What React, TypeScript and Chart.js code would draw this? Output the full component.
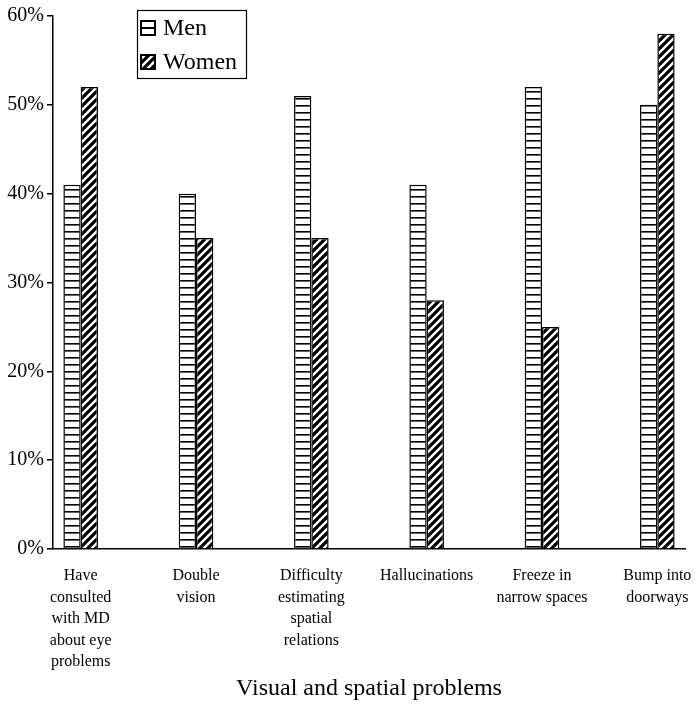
import React, { useEffect, useRef } from "react";
import { Chart, registerables } from "chart.js";

Chart.register(...registerables);

const categories: string[][] = [
  ["Have", "consulted", "with MD", "about eye", "problems"],
  ["Double", "vision"],
  ["Difficulty", "estimating", "spatial", "relations"],
  ["Hallucinations"],
  ["Freeze in", "narrow spaces"],
  ["Bump into", "doorways"],
];
const men: number[] = [41, 40, 51, 41, 52, 50];
const women: number[] = [52, 35, 35, 28, 25, 58];
const seriesNames: string[] = ["Men", "Women"];
const yTicks: number[] = [0, 10, 20, 30, 40, 50, 60];
const xTitle = "Visual and spatial problems";

const FONT = '"Liberation Serif", "Times New Roman", serif';

function makeMenPattern(ctx: CanvasRenderingContext2D): CanvasPattern | string {
  const c = document.createElement("canvas");
  c.width = 8;
  c.height = 7;
  const g = c.getContext("2d")!;
  g.fillStyle = "#fff";
  g.fillRect(0, 0, 8, 7);
  g.fillStyle = "#000";
  g.fillRect(0, 0, 8, 1.6);
  return ctx.createPattern(c, "repeat") || "#fff";
}

function makeWomenPattern(ctx: CanvasRenderingContext2D): CanvasPattern | string {
  const s = 8;
  const c = document.createElement("canvas");
  c.width = s;
  c.height = s;
  const g = c.getContext("2d")!;
  g.fillStyle = "#000";
  g.fillRect(0, 0, s, s);
  g.strokeStyle = "#fff";
  g.lineWidth = 2.4;
  g.beginPath();
  g.moveTo(-1, s + 1);
  g.lineTo(s + 1, -1);
  g.moveTo(-2, 2);
  g.lineTo(2, -2);
  g.moveTo(s - 2, s + 2);
  g.lineTo(s + 2, s - 2);
  g.stroke();
  return ctx.createPattern(c, "repeat") || "#000";
}

export default function App() {
  const ref = useRef<HTMLCanvasElement | null>(null);

  useEffect(() => {
    const canvas = ref.current!;
    const ctx = canvas.getContext("2d")!;
    const menPat = makeMenPattern(ctx);
    const womenPat = makeWomenPattern(ctx);

    const legendPlugin = {
      id: "boxLegend",
      afterDraw(chart: any) {
        const c = chart.ctx as CanvasRenderingContext2D;
        const x = 137, y = 10, w = 109, h = 68;
        c.save();
        c.fillStyle = "#fff";
        c.fillRect(x, y, w, h);
        c.strokeStyle = "#000";
        c.lineWidth = 1.2;
        c.strokeRect(x + 0.5, y + 0.5, w, h);
        const items = [
          { name: seriesNames[0], pat: menPat, cy: 28 },
          { name: seriesNames[1], pat: womenPat, cy: 62 },
        ];
        c.font = `24px ${FONT}`;
        c.textBaseline = "middle";
        c.textAlign = "left";
        items.forEach((it, i) => {
          const sx = 141, sz = 14, sy = it.cy - 7;
          if (i === 0) {
            c.fillStyle = "#fff";
            c.fillRect(sx, sy, sz, sz);
            c.strokeStyle = "#000";
            c.lineWidth = 2;
            c.strokeRect(sx, sy, sz, sz);
            c.beginPath();
            c.moveTo(sx, sy + sz / 2);
            c.lineTo(sx + sz, sy + sz / 2);
            c.stroke();
          } else {
            c.fillStyle = it.pat as any;
            c.fillRect(sx, sy, sz, sz);
            c.strokeStyle = "#000";
            c.lineWidth = 2;
            c.strokeRect(sx, sy, sz, sz);
          }
          c.fillStyle = "#000";
          c.fillText(it.name, 163, it.cy + 1);
        });
        c.restore();
      },
    };

    const chart = new Chart(canvas, {
      type: "bar",
      data: {
        datasets: [
          {
            label: seriesNames[0],
            data: men.map((v, i) => ({ x: i, y: v })),
            backgroundColor: menPat as any,
            borderColor: "#000",
            borderWidth: 1.5,
            categoryPercentage: 0.3,
            barPercentage: 1,
          },
          {
            label: seriesNames[1],
            data: women.map((v, i) => ({ x: i, y: v })),
            backgroundColor: womenPat as any,
            borderColor: "#000",
            borderWidth: 1.5,
            categoryPercentage: 0.3,
            barPercentage: 1,
          },
        ],
      },
      options: {
        animation: false,
        responsive: true,
        maintainAspectRatio: false,
        layout: { padding: { top: 16, right: 14, left: 0, bottom: 0 } },
        plugins: {
          legend: { display: false },
          tooltip: { enabled: false },
        },
        scales: {
          x: {
            type: "linear",
            offset: false,
            min: -0.24,
            max: 5.24,
            grid: { display: false, drawTicks: false, offset: false },
            border: { display: true, color: "#000", width: 1.5 },
            afterBuildTicks: (s: any) => {
              s.ticks = categories.map((_, i) => ({ value: i }));
            },
            afterFit: (s: any) => {
              s.height = 161;
              s.paddingLeft = 0;
              s.paddingRight = 0;
            },
            ticks: {
              autoSkip: false,
              maxRotation: 0,
              padding: 16,
              color: "#000",
              font: { family: FONT, size: 16, lineHeight: 1.35 },
              callback: (v: any) => categories[Math.round(Number(v))] ?? "",
            },
            title: {
              display: true,
              text: xTitle,
              color: "#000",
              font: { family: FONT, size: 24 },
              padding: { top: 4, bottom: 7 },
            },
          },
          y: {
            min: 0,
            max: 60,
            afterBuildTicks: (s: any) => {
              s.ticks = yTicks.map((v) => ({ value: v }));
            },
            afterFit: (s: any) => {
              s.width = 53;
            },
            grid: {
              drawOnChartArea: false,
              drawTicks: true,
              tickLength: 6,
              color: "#000",
              lineWidth: 1.5,
            },
            border: { display: true, color: "#000", width: 1.5 },
            ticks: {
              padding: 3,
              color: "#000",
              font: { family: FONT, size: 20 },
              callback: (v: any) => `${v}%`,
            },
          },
        },
      },
      plugins: [legendPlugin],
    } as any);

    return () => chart.destroy();
  }, []);

  return (
    <div style={{ position: "absolute", left: 0, top: 0, width: 699, height: 710, background: "#fff" }}>
      <canvas ref={ref} />
    </div>
  );
}
